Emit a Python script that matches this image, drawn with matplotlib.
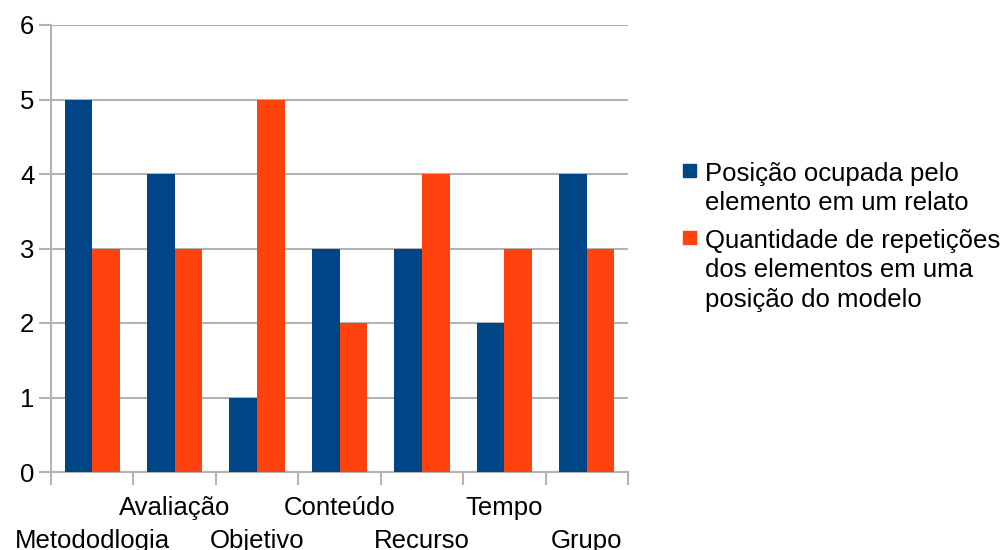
import numpy as np
import matplotlib.pyplot as plt
from matplotlib.patches import Rectangle

categorias = ['Metododlogia', 'Avaliação', 'Objetivo', 'Conteúdo', 'Recurso', 'Tempo', 'Grupo']
posicao = [5, 4, 1, 3, 3, 2, 4]
repeticoes = [3, 3, 5, 2, 4, 3, 3]
serie1 = 'Posição ocupada pelo\nelemento em um relato'
serie2 = 'Quantidade de repetições\ndos elementos em uma\nposição do modelo'

azul = '#004586'
laranja = '#ff420e'
cinza = '#b3b3b3'
fs = 18.5

plt.rcParams['font.family'] = ['Liberation Sans', 'DejaVu Sans']

fig = plt.figure(figsize=(10.01, 5.5), dpi=100)
ax = fig.add_axes([51/1001, 78/550, 577/1001, 447/550])

x = np.arange(len(categorias))
w = 0.335
ax.bar(x - w/2, posicao, w, color=azul, zorder=3)
ax.bar(x + w/2, repeticoes, w, color=laranja, zorder=3)

ax.set_xlim(-0.5, len(categorias) - 0.5)
ax.set_ylim(0, 6)
ax.set_yticks(range(7))
ax.yaxis.grid(True, color=cinza, linewidth=1.5, zorder=0)
ax.tick_params(axis='y', length=9, width=1.5, color=cinza, labelsize=fs, pad=3)

ax.set_xticks(np.arange(len(categorias) + 1) - 0.5)
ax.set_xticklabels([])
ax.tick_params(axis='x', length=9, width=1.5, color=cinza)
for i, c in enumerate(categorias):
    yy = -0.08 if i % 2 == 1 else -0.155
    ax.text(i, yy, c, transform=ax.get_xaxis_transform(), ha='center', va='center',
            fontsize=fs)

for s in ['top', 'right']:
    ax.spines[s].set_visible(False)
for s in ['left', 'bottom']:
    ax.spines[s].set_color(cinza)
    ax.spines[s].set_linewidth(1.5)

# legenda
for cor, txt, ycen in [(azul, serie1, 170), (laranja, serie2, 237)]:
    fig.patches.append(Rectangle((683/1001, 1 - (ycen + 7)/550), 13/1001, 13/550,
                                 transform=fig.transFigure, color=cor))
    fig.text(705/1001, 1 - (ycen - 8)/550, txt, fontsize=fs, va='top', ha='left',
             linespacing=1.28)

fig.savefig('out.png', dpi=100)
